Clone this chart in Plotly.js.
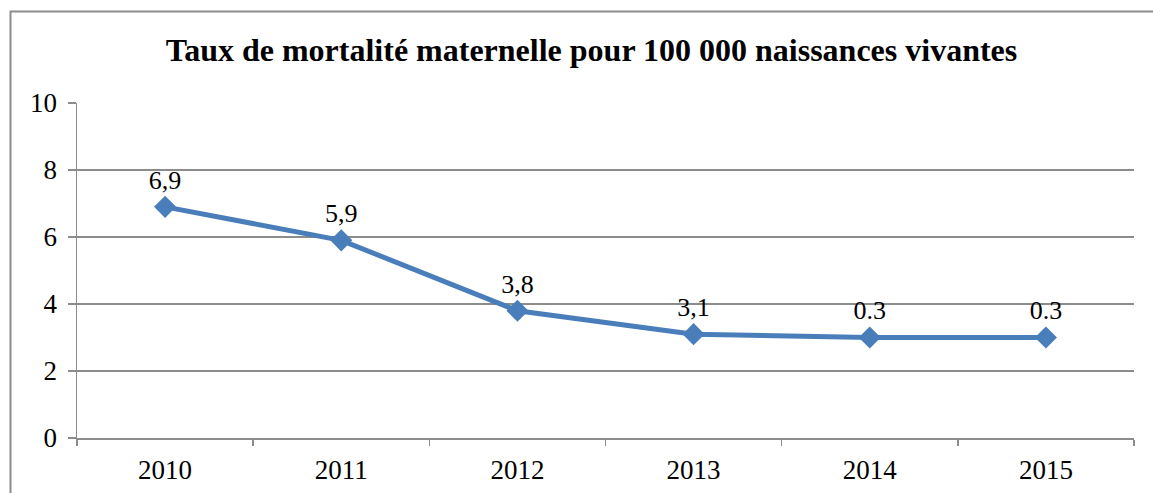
<!DOCTYPE html>
<html>
<head>
<meta charset="utf-8">
<script src="https://cdn.plot.ly/plotly-3.0.1.min.js"></script>
<style>html,body{margin:0;padding:0;background:#fff;}#chart{width:1153px;height:493px;}</style>
</head>
<body>
<div id="chart"></div>
<script>
const years = ["2010", "2011", "2012", "2013", "2014", "2015"];
const values = [6.9, 5.9, 3.8, 3.1, 3.0, 3.0];
const labels = ["6,9", "5,9", "3,8", "3,1", "0.3", "0.3"];
const yTicks = [0, 2, 4, 6, 8, 10];
const chartTitle = "Taux de mortalité maternelle pour 100 000 naissances vivantes";

const serif = "'Liberation Serif', 'Times New Roman', serif";
const gridCol = "#8c8c8c";

const trace = {
  type: "scatter",
  mode: "lines+markers+text",
  x: years,
  y: values,
  text: labels,
  textposition: "top center",
  textfont: {family: serif, size: 26, color: "#000"},
  line: {color: "#4a7ebb", width: 5},
  marker: {symbol: "diamond", size: 17, color: "#4a7ebb"},
  cliponaxis: false,
  hoverinfo: "skip"
};

const layout = {
  width: 1153, height: 493,
  margin: {l: 77, r: 19, t: 103, b: 55},
  paper_bgcolor: "#fff", plot_bgcolor: "#fff",
  showlegend: false,
  title: {
    text: "<b>" + chartTitle + "</b>",
    font: {family: serif, size: 32, color: "#000"},
    x: 0.513, xanchor: "center", y: 0.9, yanchor: "middle", yref: "container"
  },
  xaxis: {
    type: "category",
    range: [-0.5, 5.5],
    tickson: "boundaries",
    ticks: "outside", ticklen: 6, tickcolor: gridCol, tickwidth: 1.5,
    showline: true, linecolor: gridCol, linewidth: 1.5,
    showgrid: false, zeroline: false,
    tickfont: {family: serif, size: 27, color: "#000"},
    ticklabelstandoff: 7,
    fixedrange: true
  },
  yaxis: {
    range: [0, 10],
    tickvals: yTicks,
    ticktext: yTicks.map(String),
    ticks: "outside", ticklen: 8, tickcolor: gridCol, tickwidth: 1.5,
    showline: true, linecolor: gridCol, linewidth: 1.5,
    showgrid: true, gridcolor: gridCol, gridwidth: 1.5,
    zeroline: false,
    tickfont: {family: serif, size: 27, color: "#000"},
    ticklabelstandoff: 5,
    fixedrange: true
  },
  shapes: [{
    type: "rect", xref: "paper", yref: "paper",
    x0: (10.5 - 77) / 1057, x1: 1.1,
    y0: -0.3, y1: (438 - 11.5) / 335,
    line: {color: "#8c8c8c", width: 2}, fillcolor: "rgba(0,0,0,0)", layer: "below"
  }]
};

Plotly.newPlot("chart", [trace], layout, {displayModeBar: false, staticPlot: true});
</script>
</body>
</html>
